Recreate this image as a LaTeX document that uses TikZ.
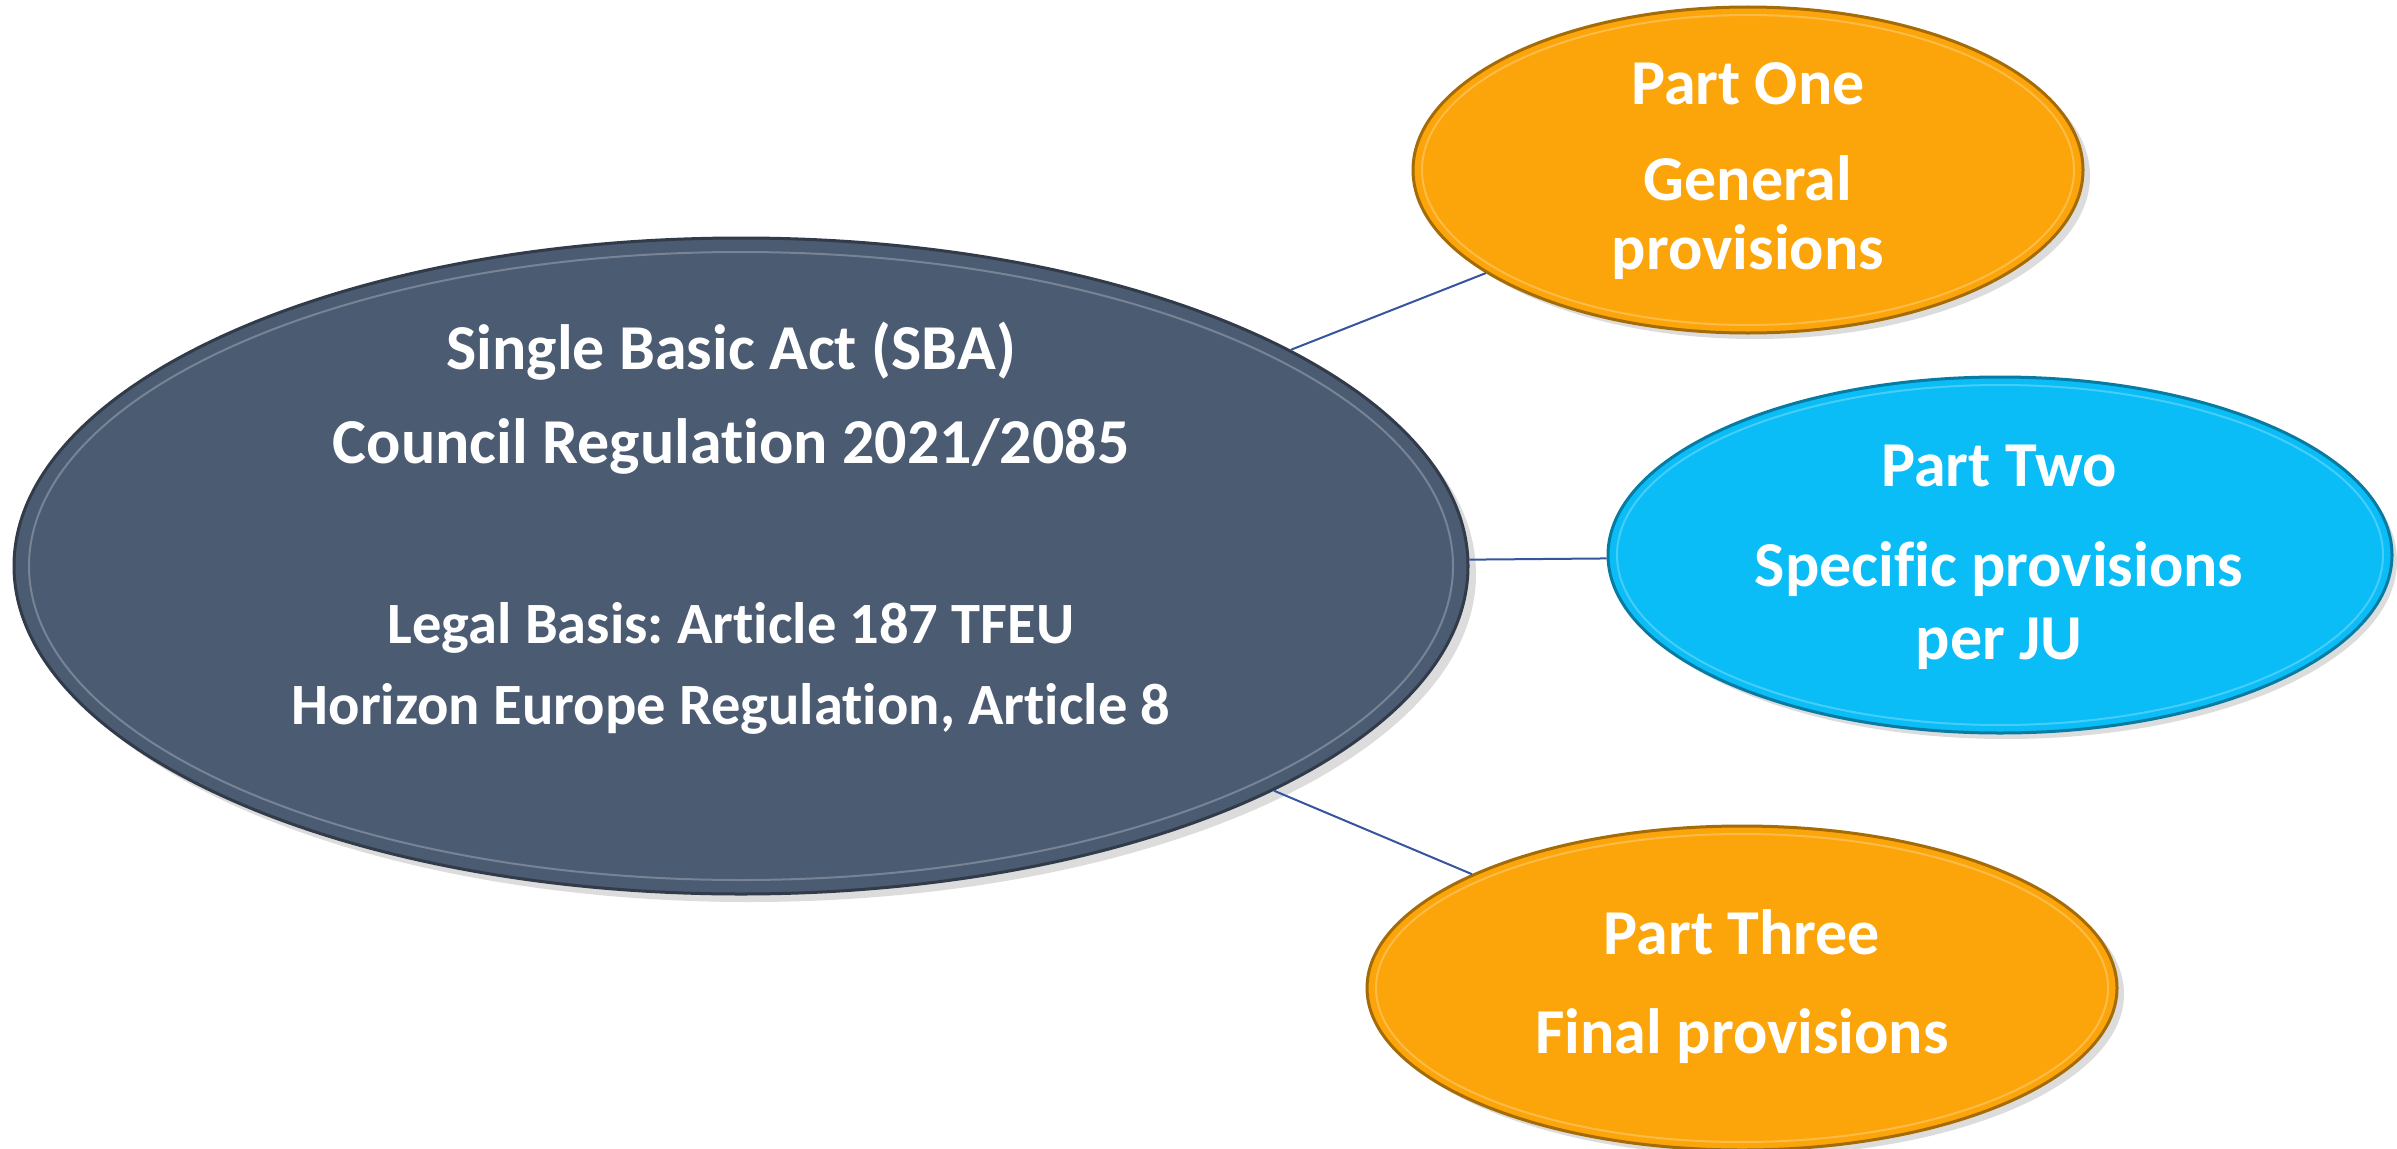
\documentclass[tikz,border=0pt]{standalone}
\usepackage{fontspec}
\setmainfont{Carlito}[Ligatures=NoCommon]
\usetikzlibrary{shapes.geometric}
\definecolor{slate}{HTML}{4B5B72}
\definecolor{orng}{HTML}{FCA50A}
\definecolor{cyanb}{HTML}{0ABDF7}
\definecolor{linkc}{HTML}{3555A0}
\frenchspacing
\begin{document}
\begin{tikzpicture}[x=1pt,y=-1pt,
  blob/.style={ellipse, inner sep=0pt, fill=#1, draw=#1!65!black, line width=3pt},
  ring/.style={draw=#1!75!white, line width=2pt},
  shade/.style={fill=black!30, opacity=0.45},
  link/.style={draw=linkc, line width=2pt},
  txt/.style={text=white, inner sep=0pt, text height=0.7em, text depth=0.2em},
  big/.style={txt, font=\fontsize{64}{76}\selectfont\bfseries},
  small/.style={txt, font=\fontsize{58.5}{70}\selectfont\bfseries}]
\useasboundingbox (0,0) rectangle (2397,1148);
\fill[white] (0,0) rectangle (2397,1148);
% shadows
\fill[shade] (749,574) ellipse [x radius=727, y radius=328];
\fill[shade] (1755,176) ellipse [x radius=335, y radius=163];
\fill[shade] (2006,561) ellipse [x radius=391, y radius=178];
\fill[shade] (1749,994) ellipse [x radius=375, y radius=162];
% ellipses
\node[blob=slate, minimum width=1454pt, minimum height=656pt] (sba) at (741,566) {};
\node[blob=orng, minimum width=670pt, minimum height=326pt] (p1) at (1748,170) {};
\node[blob=cyanb, minimum width=784pt, minimum height=356pt] (p2) at (2000,555) {};
\node[blob=orng, minimum width=750pt, minimum height=324pt] (p3) at (1742,988) {};
% bevel rings
\draw[ring=slate] (sba.center) ellipse [x radius=712, y radius=314];
\draw[ring=orng] (p1.center) ellipse [x radius=326, y radius=155];
\draw[ring=cyanb] (p2.center) ellipse [x radius=383, y radius=170];
\draw[ring=orng] (p3.center) ellipse [x radius=366, y radius=154];
% connectors
\draw[link] (sba) -- (p1);
\draw[link] (sba) -- (p2);
\draw[link] (sba) -- (p3);
% texts
\node[big] (s1) at (731,367) {Single Basic Act (SBA)};
\node[big] (s2) at (731,461) {Council Regulation 2021/2085};
\node[small] (s3) at (731,641) {Legal Basis: Article 187 TFEU};
\node[small] (s4) at (731,722) {Horizon Europe Regulation, Article 8};
\node[big] (a1) at (1748,102) {Part One};
\node[big] (a2) at (1748,198) {General};
\node[big] (a3) at (1748,267) {provisions};
\node[big] (b1) at (1999,484) {Part Two};
\node[big] (b2) at (1999,584) {Specific provisions};
\node[big] (b3) at (1999,657) {per JU};
\node[big] (c1) at (1742,952) {Part Three};
\node[big] (c2) at (1742,1051) {Final provisions};
\end{tikzpicture}
\end{document}
